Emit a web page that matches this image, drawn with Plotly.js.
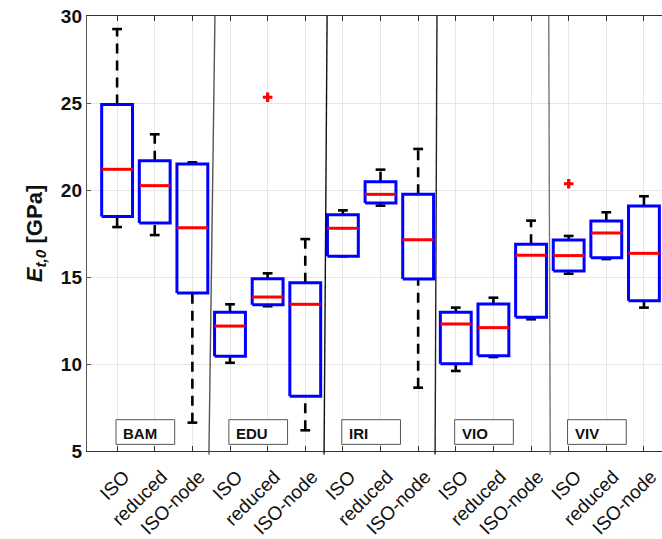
<!DOCTYPE html>
<html>
<head>
<meta charset="utf-8">
<script src="https://cdn.plot.ly/plotly-3.0.1.min.js"></script>
<style>
  html, body { margin: 0; padding: 0; background: #fff; overflow: hidden; }
  #chart { width: 662px; height: 539px; }
</style>
</head>
<body>
<div id="chart"></div>
<script>
// Tensile modulus E_t,0 per laboratory and test method
const labs = ['BAM', 'EDU', 'IRI', 'VIO', 'VIV'];
const methods = ['ISO', 'reduced', 'ISO-node'];

// five-number summaries, one entry per box (lab-major, method-minor)
const whiskerLow  = [17.87, 17.41,  6.63, 10.07, 13.32,  6.19, 16.19, 19.10,  8.64,  9.60, 10.40, 12.57, 15.19, 16.03, 13.24];
const quartile1   = [18.47, 18.10, 14.08, 10.44, 13.41,  8.14, 16.19, 19.25, 14.89, 10.02, 10.48, 12.68, 15.34, 16.11, 13.64];
const medians     = [21.19, 20.25, 17.83, 12.18, 13.85, 13.43, 17.80, 19.75, 17.14, 12.30, 12.09, 16.25, 16.23, 17.53, 16.36];
const quartile3   = [24.92, 21.68, 21.49, 12.97, 14.90, 14.67, 18.58, 20.48, 19.75, 12.97, 13.45, 16.88, 17.13, 18.22, 19.08];
const whiskerHigh = [29.25, 23.20, 21.59, 13.43, 15.21, 17.18, 18.83, 21.17, 22.36, 13.24, 13.81, 18.24, 17.36, 18.72, 19.64];

// outliers: box number (1-based) and value
const outlierBox   = [5, 13];
const outlierValue = [25.33, 20.36];

const BOX_HALF = 0.41;
const CAP_HALF = 0.13;

const positions = whiskerLow.map((_, i) => i + 1);
const tickText = [];
labs.forEach(() => methods.forEach(m => tickText.push(m)));

// build segment paths separated by nulls
function segs(builder) {
  const x = [], y = [];
  positions.forEach((p, i) => {
    builder(p, i).forEach(pt => { x.push(pt[0]); y.push(pt[1]); });
    x.push(null); y.push(null);
  });
  return { x, y };
}

const whiskers = segs((p, i) => [[p, quartile3[i]], [p, whiskerHigh[i]], [null, null], [p, whiskerLow[i]], [p, quartile1[i]]]);
const caps = segs((p, i) => [[p - CAP_HALF, whiskerHigh[i]], [p + CAP_HALF, whiskerHigh[i]], [null, null],
                             [p - CAP_HALF, whiskerLow[i]], [p + CAP_HALF, whiskerLow[i]]]);
const boxes = segs((p, i) => [[p - BOX_HALF, quartile1[i]], [p + BOX_HALF, quartile1[i]], [p + BOX_HALF, quartile3[i]],
                              [p - BOX_HALF, quartile3[i]], [p - BOX_HALF, quartile1[i]]]);
const meds = segs((p, i) => [[p - BOX_HALF, medians[i]], [p + BOX_HALF, medians[i]]]);

const traces = [
  { type: 'scatter', mode: 'lines', x: whiskers.x, y: whiskers.y, connectgaps: false,
    line: { color: '#000', width: 2.6, dash: '10px,7px' }, hoverinfo: 'skip', showlegend: false },
  { type: 'scatter', mode: 'lines', x: caps.x, y: caps.y,
    line: { color: '#000', width: 2.6 }, hoverinfo: 'skip', showlegend: false },
  { type: 'scatter', mode: 'lines', x: boxes.x, y: boxes.y,
    line: { color: '#0000ff', width: 3 }, hoverinfo: 'skip', showlegend: false },
  { type: 'scatter', mode: 'lines', x: meds.x, y: meds.y,
    line: { color: '#ff0000', width: 3 }, hoverinfo: 'skip', showlegend: false },
  { type: 'scatter', mode: 'markers', x: outlierBox, y: outlierValue,
    marker: { symbol: 'cross', size: 8, color: '#ff0000', line: { width: 0 } },
    hoverinfo: 'skip', showlegend: false }
];

// group separators (slightly slanted hand-drawn rules) and lab label boxes
const sepTilt = [[0.10, -0.06], [0.08, 0.00], [0.00, -0.05], [-0.03, 0.01]];
const sepColor = ['#555', '#111', '#222', '#777'];
const shapes = [];
const annotations = [];
labs.forEach((lab, g) => {
  if (g > 0) {
    const b = g * 3 + 0.5;
    const t = sepTilt[g - 1];
    shapes.push({ type: 'line', xref: 'x', yref: 'paper', x0: b + t[0], x1: b + t[1], y0: 1, y1: -0.008,
                  line: { color: sepColor[g - 1], width: 1.4 } });
  }
  const left = g * 3 + 0.97;
  shapes.push({ type: 'rect', xref: 'x', yref: 'y', x0: left, x1: left + 1.56, y0: 5.38, y1: 6.80,
                line: { color: '#555', width: 1 }, fillcolor: '#fff', layer: 'above' });
  annotations.push({ xref: 'x', yref: 'y', x: left, y: 6.0, xanchor: 'left', yanchor: 'middle', xshift: 5,
                     text: '<b>' + lab + '</b>', showarrow: false,
                     font: { family: 'Liberation Sans, Arial, sans-serif', size: 15, color: '#111' } });
});

const layout = {
  width: 662, height: 539,
  margin: { l: 87, r: 0, t: 16, b: 88 },
  paper_bgcolor: '#fff', plot_bgcolor: '#fff',
  font: { family: 'Liberation Sans, Arial, sans-serif', color: '#262626' },
  xaxis: {
    range: [0.2, 15.48], tickvals: positions, ticktext: tickText, tickangle: -45,
    tickfont: { size: 19, color: '#111' }, ticklabelstandoff: 6, ticklabelshift: 7,
    showgrid: true, gridcolor: '#e6e6e6', gridwidth: 1, zeroline: false,
    showline: true, linecolor: '#333', linewidth: 1.2, mirror: 'allticks',
    ticks: 'inside', ticklen: 5, tickcolor: '#333'
  },
  yaxis: {
    range: [5, 30], tickvals: [5, 10, 15, 20, 25, 30],
    tickfont: { size: 19, color: '#111', weight: 'bold' },
    showgrid: true, gridcolor: '#e6e6e6', gridwidth: 1, zeroline: false,
    showline: true, linecolor: '#555', linewidth: 1.2,
    ticks: 'inside', ticklen: 4, tickcolor: '#555',
    title: { text: '<b><i>E</i><sub><i>t,0</i></sub> [GPa]</b>', standoff: 12,
             font: { size: 22, color: '#111' } }
  },
  shapes: shapes,
  annotations: annotations
};

Plotly.newPlot('chart', traces, layout, { displayModeBar: false, staticPlot: true });
</script>
</body>
</html>
